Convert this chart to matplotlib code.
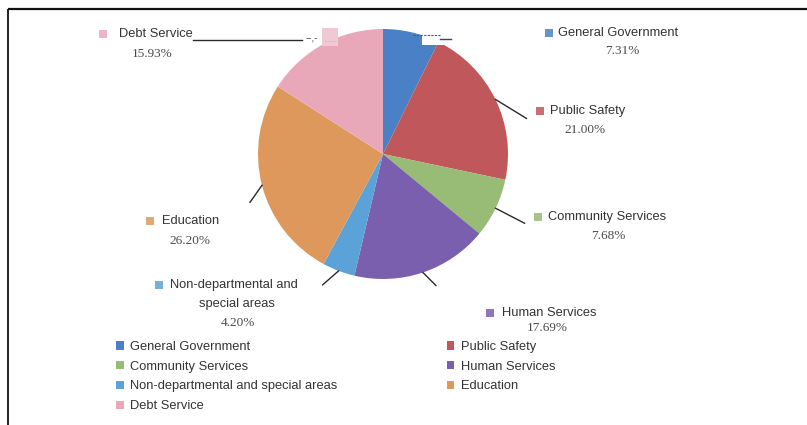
import matplotlib
matplotlib.use("Agg")
import numpy as np
import matplotlib.pyplot as plt
from matplotlib.patches import Patch, Rectangle

# Budget shares by function (percent of total)
categories = ["General Government", "Public Safety", "Community Services",
              "Human Services", "Non-departmental and special areas",
              "Education", "Debt Service"]
shares = [7.31, 21.00, 7.68, 17.69, 4.20, 26.20, 15.93]
colors = ["#4a80c6", "#c0575a", "#98bb76", "#7a5fae", "#5aa2d8",
          "#de985c", "#e9a8b9"]

W, H = 807, 425
CX, CY, R = 383, 154, 125          # pie centre and radius in pixels

SANS = ["Liberation Sans", "DejaVu Sans"]
SERIF = ["Liberation Serif", "DejaVu Serif"]
TXT = "#333333"
PCT = "#4a4a4a"
FS = 9.25

fig = plt.figure(figsize=(W / 100, H / 100), dpi=100)
fig.patch.set_facecolor("white")

# Pie
pax = fig.add_axes([(CX - R) / W, 1 - (CY + R) / H, 2 * R / W, 2 * R / H])
wedges, _ = pax.pie(shares, colors=colors, startangle=90, counterclock=False,
                    radius=1, wedgeprops=dict(linewidth=0))
pax.set_xlim(-1, 1)
pax.set_ylim(-1, 1)

# Overlay in pixel coordinates for frame, labels and leader lines
ov = fig.add_axes([0, 0, 1, 1])
ov.set_xlim(0, W)
ov.set_ylim(H, 0)
ov.axis("off")
ov.patch.set_alpha(0)

# Frame (top and left rules)
ov.plot([8, W], [9, 9], color="#111111", lw=1.6, solid_capstyle="butt")
ov.plot([8, 8], [9, H], color="#111111", lw=1.3, solid_capstyle="butt")


def edge_point(w):
    mid = np.deg2rad((w.theta1 + w.theta2) / 2)
    return CX + R * np.cos(mid), CY - R * np.sin(mid)


def fmt(v):
    return f"{v:.2f}%"


# label layout: square centre, text left x, text y, pct centre x, pct y
layout = {
    0: dict(sq=(549, 33), tx=558, ty=33, px=622, py=51, lead=None),
    1: dict(sq=(540, 111), tx=550, ty=111, px=585, py=130, lead=(31, 19)),
    2: dict(sq=(538, 217), tx=548, ty=217, px=608, py=236, lead=(29, 15)),
    3: dict(sq=(490, 313), tx=502, ty=313, px=547, py=328, lead=(13, 13)),
    4: dict(sq=(159, 285), tx=170, ty=285, px=238, py=323, lead=(-16, 14)),
    5: dict(sq=(150, 221), tx=162, ty=221, px=190, py=241, lead=(-12, 17)),
    6: dict(sq=(103, 34), tx=119, ty=34, px=152, py=54, lead=None),
}

for i, (name, val, col) in enumerate(zip(categories, shares, colors)):
    L = layout[i]
    sx, sy = L["sq"]
    ov.add_patch(Rectangle((sx - 4, sy - 4), 8, 8, facecolor=col,
                           edgecolor="none", alpha=0.85))
    if i == 4:
        ov.text(L["tx"], L["ty"], "Non-departmental and", family=SANS,
                fontsize=FS, color=TXT, va="center", ha="left")
        ov.text(237, 304, "special areas", family=SANS, fontsize=FS,
                color=TXT, va="center", ha="center")
    else:
        ov.text(L["tx"], L["ty"], name, family=SANS, fontsize=FS, color=TXT,
                va="center", ha="left")
    ov.text(L["px"], L["py"], fmt(val), family=SERIF, fontsize=9.5,
            color=PCT, va="center", ha="center")
    if L["lead"] is not None:
        x0, y0 = edge_point(wedges[i])
        dx, dy = L["lead"]
        ov.plot([x0, x0 + dx], [y0, y0 + dy], color="#2a2a2a", lw=1.0)

# Debt Service leader running along the top to the pie
ov.plot([193, 302], [40, 40], color="#2a2a2a", lw=1.0)
ov.text(312, 38, "--,-", family=SANS, fontsize=7, color="#444444",
        ha="center", va="center")
ov.add_patch(Rectangle((322, 28), 16, 18, facecolor="#efcad4",
                       edgecolor="none"))
ov.text(330, 40, "____", family=SANS, fontsize=4, color="#e0a0b0",
        ha="center", va="center")

# General Government leader near the top of the pie
ov.add_patch(Rectangle((422, 28), 28, 17, facecolor="white",
                       edgecolor="none"))
ov.plot([413, 440], [35, 35], color="#555555", lw=0.8, ls=(0, (2, 1.2)))
ov.plot([440, 451], [39, 39], color="#2a4a7a", lw=1.0)

# Legend
handles = [Patch(facecolor=c, edgecolor="none") for c in colors]
order = [0, 2, 4, 6, 1, 3, 5]
leg = fig.legend([handles[k] for k in order], [categories[k] for k in order],
                 ncol=2, loc="upper left", bbox_to_anchor=(116 / W, 1 - 341 / H),
                 frameon=False, prop=dict(family=SANS, size=FS),
                 labelcolor=TXT, handlelength=0.6, handleheight=0.6,
                 handletextpad=0.5, labelspacing=0.6, columnspacing=8.5,
                 borderpad=0, borderaxespad=0)

fig.savefig("out.png", dpi=100, facecolor="white")
